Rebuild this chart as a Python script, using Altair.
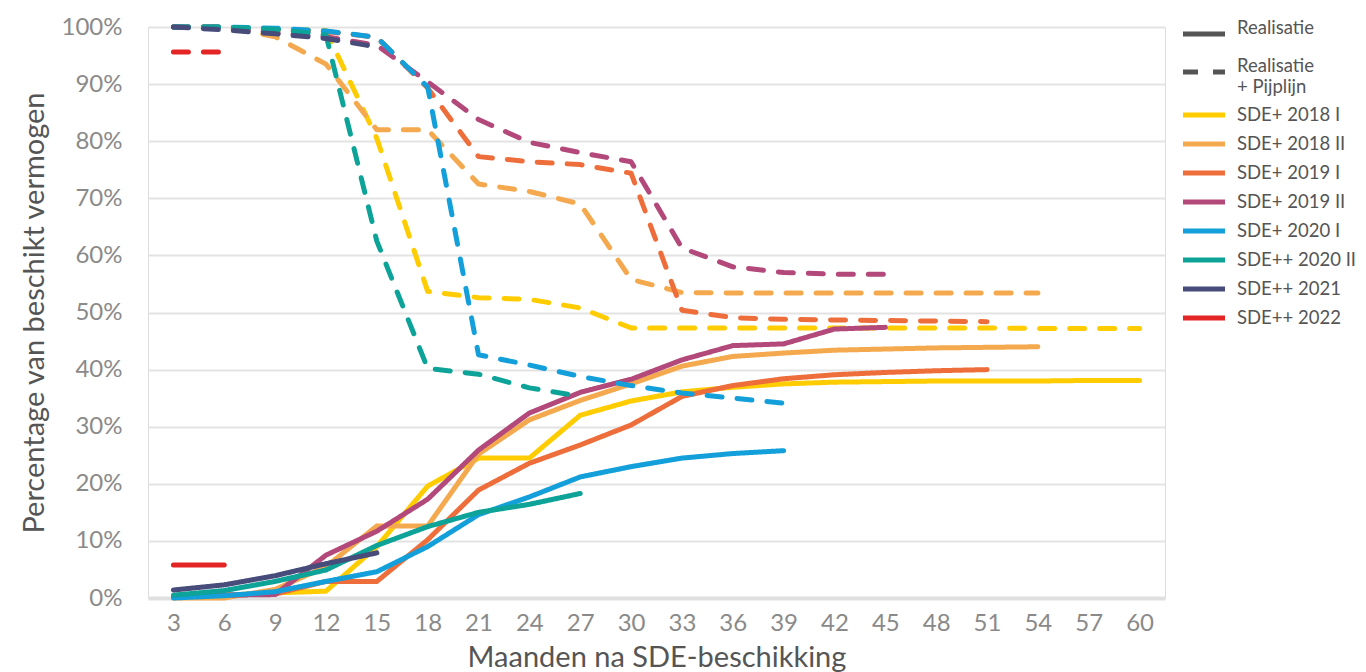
import altair as alt
import pandas as pd

months = [3, 6, 9, 12, 15, 18, 21, 24, 27, 30, 33, 36, 39, 42, 45, 48, 51, 54, 57, 60]

rounds = ["SDE+ 2018 I", "SDE+ 2018 II", "SDE+ 2019 I", "SDE+ 2019 II",
          "SDE+ 2020 I", "SDE++ 2020 II", "SDE++ 2021", "SDE++ 2022"]
colors = ["#FFCC00", "#F5A94E", "#EE6E3B", "#B3497A",
          "#139FDA", "#0DA398", "#474C7A", "#E42526"]

# Realisatie (solid lines), percentages per month starting at 3
real_2018_1 = [0.2, 0.5, 0.9, 1.2, 9.0, 19.6, 24.5, 24.5, 32.0, 34.5, 36.1, 36.9, 37.5, 37.8, 37.9, 38.0, 38.0, 38.0, 38.1, 38.1]
real_2018_2 = [0.0, 0.0, 1.5, 5.5, 12.6, 12.6, 25.2, 31.2, 34.6, 37.5, 40.6, 42.3, 42.9, 43.4, 43.6, 43.8, 43.9, 44.0]
real_2019_1 = [0.3, 0.5, 0.7, 2.9, 2.9, 10.2, 18.9, 23.6, 26.8, 30.3, 35.3, 37.2, 38.4, 39.1, 39.5, 39.8, 40.0]
real_2019_2 = [0.3, 0.5, 0.6, 7.5, 11.7, 17.3, 25.9, 32.4, 36.0, 38.3, 41.7, 44.2, 44.5, 47.1, 47.4]
real_2020_1 = [0.0, 0.4, 1.1, 2.9, 4.6, 9.0, 14.6, 17.7, 21.2, 23.0, 24.5, 25.3, 25.8]
real_2020_2 = [0.5, 1.3, 2.9, 4.9, 9.2, 12.5, 15.0, 16.4, 18.3]
real_2021 = [1.4, 2.3, 3.9, 6.0, 7.9]
real_2022 = [5.8, 5.8]

# Realisatie + Pijplijn (dashed lines)
pijp_2018_1 = [100, 100, 99.6, 99.4, 80.5, 53.7, 52.6, 52.3, 50.8, 47.3, 47.3, 47.3, 47.3, 47.3, 47.3, 47.3, 47.3, 47.2, 47.2, 47.2]
pijp_2018_2 = [100, 100, 98.3, 93.5, 82.0, 82.0, 72.5, 71.2, 69.0, 55.8, 53.5, 53.4, 53.4, 53.4, 53.4, 53.4, 53.4, 53.4]
pijp_2019_1 = [100, 100, 99.5, 99.2, 98.2, 89.3, 77.3, 76.4, 75.9, 74.4, 50.4, 49.1, 48.8, 48.7, 48.6, 48.5, 48.4]
pijp_2019_2 = [100, 100, 99.0, 98.3, 96.8, 90.4, 83.8, 79.8, 78.0, 76.4, 61.3, 58.0, 57.0, 56.7, 56.7]
pijp_2020_1 = [100, 100, 99.8, 99.3, 98.2, 89.5, 42.6, 40.8, 38.8, 37.2, 35.9, 35.0, 34.1]
pijp_2020_2 = [100, 100, 99.6, 98.6, 62.5, 40.2, 39.2, 36.8, 35.3]
pijp_2021 = [100, 99.5, 98.8, 98.0, 96.5]
pijp_2022 = [95.6, 95.6]

types = ["Realisatie", "Realisatie + Pijplijn"]

real_series = [real_2018_1, real_2018_2, real_2019_1, real_2019_2,
               real_2020_1, real_2020_2, real_2021, real_2022]
pijp_series = [pijp_2018_1, pijp_2018_2, pijp_2019_1, pijp_2019_2,
               pijp_2020_1, pijp_2020_2, pijp_2021, pijp_2022]

rows = []
for i, r in enumerate(rounds):
    for t, series in ((types[1], pijp_series[i]), (types[0], real_series[i])):
        for m, v in zip(months, series):
            rows.append({"maand": m, "pct": v, "ronde": r, "type": t,
                         "key": f"{i:02d}-{t}", "ord": i})
df = pd.DataFrame(rows)

FONT = "Lato"
LEG_SYMBOL = "M-1.75,0L1.75,0"

chart = alt.Chart(df).mark_line(
    strokeWidth=5, strokeCap="round", strokeJoin="round"
).encode(
    x=alt.X("maand:Q",
            scale=alt.Scale(domain=[1.5, 61.5], nice=False, zero=False),
            axis=alt.Axis(values=months, title="Maanden na SDE-beschikking",
                          grid=False, ticks=False, labelPadding=13,
                          labelFontSize=24, labelColor="#8A8A8A", labelFont=FONT,
                          titleFontSize=29, titleColor="#555555", titleFont=FONT,
                          titleFontWeight="normal", titlePadding=8,
                          domainColor="#E0E0E0", domainWidth=4)),
    y=alt.Y("pct:Q",
            scale=alt.Scale(domain=[0, 100], nice=False),
            axis=alt.Axis(values=list(range(0, 101, 10)),
                          labelExpr="datum.value + '%'",
                          title="Percentage van beschikt vermogen",
                          domain=False, ticks=False, labelPadding=26,
                          labelFontSize=24, labelColor="#8A8A8A", labelFont=FONT,
                          titleFontSize=29, titleColor="#555555", titleFont=FONT,
                          titleFontWeight="normal", titlePadding=12,
                          gridColor="#E3E3E3", gridWidth=2)),
    color=alt.Color("ronde:N",
                    scale=alt.Scale(domain=rounds, range=colors),
                    legend=alt.Legend(orient="none", legendX=1041.5, legendY=73.5,
                                      title=None, symbolType=LEG_SYMBOL,
                                      symbolSize=576, symbolStrokeWidth=5,
                                      labelFontSize=18.5, labelColor="#555555",
                                      labelFont=FONT, labelOffset=18.5,
                                      labelLimit=220, rowPadding=4)),
    strokeDash=alt.StrokeDash("type:N",
                              scale=alt.Scale(domain=types, range=[[1, 0], [15, 15]]),
                              legend=alt.Legend(orient="none", legendX=1041.5, legendY=-7.5,
                                                title=None, symbolType=LEG_SYMBOL,
                                                symbolSize=576, symbolStrokeWidth=5,
                                                symbolStrokeColor="#555555",
                                                labelFontSize=18.5, labelColor="#555555",
                                                labelFont=FONT, labelOffset=18.5,
                                                labelLimit=220,
                                                labelBaseline="alphabetic",
                                                rowPadding=12,
                                                labelExpr="datum.label == 'Realisatie + Pijplijn' ? ['Realisatie', '+ Pijplijn'] : datum.label")),
    detail="key:N",
    order=alt.Order("ord:Q"),
).properties(
    width=1017, height=571,
    padding={"left": 140, "top": 19, "right": 191, "bottom": 74},
    autosize=alt.AutoSizeParams(type="none"),
).configure_view(stroke=None).configure(background="white")

chart.save("out.html", embed_options={"renderer": "svg", "actions": False})
